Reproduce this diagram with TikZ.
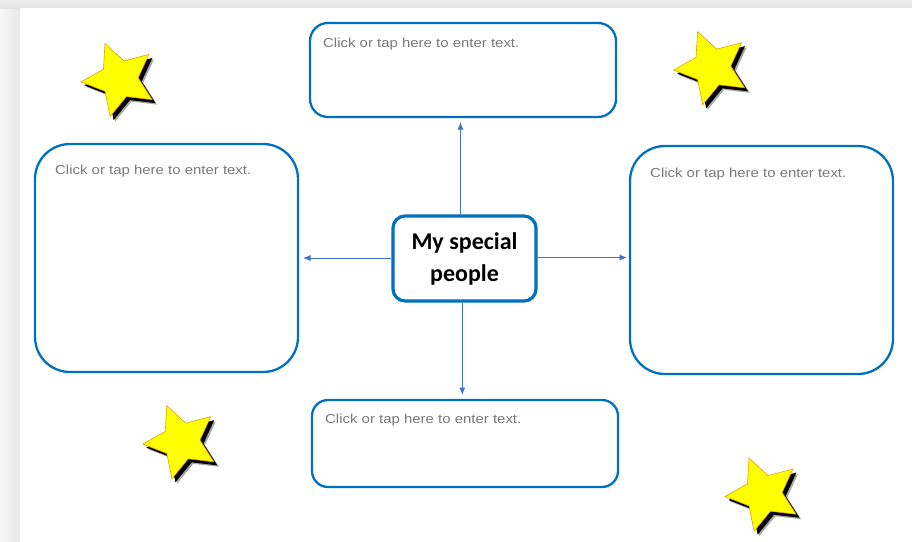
\documentclass[tikz,border=0pt]{standalone}
\usepackage{fontspec}
\setmainfont{Liberation Sans}
\newfontfamily\hintfont[FakeStretch=1.15]{Liberation Sans}
\newfontfamily\titlefont{Carlito}
\usetikzlibrary{shapes.geometric,arrows.meta}
\definecolor{boxblue}{HTML}{0070C0}
\definecolor{arrowblue}{HTML}{4472C4}
\definecolor{hintgray}{HTML}{7A7A7A}
\definecolor{staredge}{HTML}{E6A000}
\definecolor{staryellow}{HTML}{FFFF00}
\begin{document}
\begin{tikzpicture}[x=1pt,y=-1pt,
  field/.style={draw=boxblue, line width=2.3pt, fill=white, inner sep=0pt},
  hint/.style={font=\hintfont\fontsize{13}{15}\selectfont, text=hintgray, anchor=base west, inner sep=0pt},
  link/.style={draw=arrowblue, line width=0.9pt, -{Latex[length=7.5pt,width=6pt]}},
  starshape/.style={star, star points=5, star point ratio=2.05, inner sep=0pt, minimum size=77pt, rotate=22},
  starbody/.style={starshape, fill=staryellow, draw=staredge, line width=0.6pt},
  starshadow/.style={starshape, fill=black},
  starblur/.style={starshape, fill=black!35}
]
\useasboundingbox (0,0) rectangle (912,541);
% page background
\fill[white] (0,0) rectangle (912,541);
\shade[left color=black!3, right color=black!9] (0,8) rectangle (20,541);
\shade[top color=black!7, bottom color=black!10] (0,0) rectangle (912,8);
\fill[white] (20,8) rectangle (912,541);

% boxes
\node[field, rounded corners=18pt, minimum width=306pt, minimum height=94pt] (top) at (463,70) {};
\node[field, rounded corners=35pt, minimum width=263pt, minimum height=228pt] (left) at (166.5,258) {};
\node[field, rounded corners=35pt, minimum width=263pt, minimum height=228pt] (right) at (761.5,260) {};
\node[field, rounded corners=16pt, minimum width=306pt, minimum height=87pt] (bottom) at (465,443.5) {};
\node[field, line width=3.2pt, rounded corners=12pt, minimum width=143pt, minimum height=85pt,
      align=center, font=\titlefont\bfseries\fontsize{24}{32}\selectfont] (centre) at (464.5,258.5) {My special\\people};

% hint texts
\node[hint] (ttop) at (323,47.5) {Click or tap here to enter text.};
\node[hint] (tleft) at (55,174) {Click or tap here to enter text.};
\node[hint] (tright) at (650,177) {Click or tap here to enter text.};
\node[hint] (tbottom) at (325,423) {Click or tap here to enter text.};

% arrow ends
\coordinate (etop) at (460.5,122);
\coordinate (eleft) at (303,258);
\coordinate (eright) at (627,257.5);
\coordinate (ebottom) at (462.3,395);
\draw[link] (centre.north -| etop) -- (etop);
\draw[link] (centre.west |- eleft) -- (eleft);
\draw[link] (centre.east |- eright) -- (eright);
\draw[link] (centre.south -| ebottom) -- (ebottom);

% stars
\foreach \n/\x/\y in {a/119.4/79.2, b/712/67.4, c/181.2/441.4, d/763.4/493.8}{
  \node[starblur] (blur\n) at (\x+5,\y+5) {};
  \node[starshadow] (shadow\n) at (\x+3.5,\y+3.5) {};
  \node[starbody] (star\n) at (\x,\y) {};
}
\end{tikzpicture}
\end{document}
